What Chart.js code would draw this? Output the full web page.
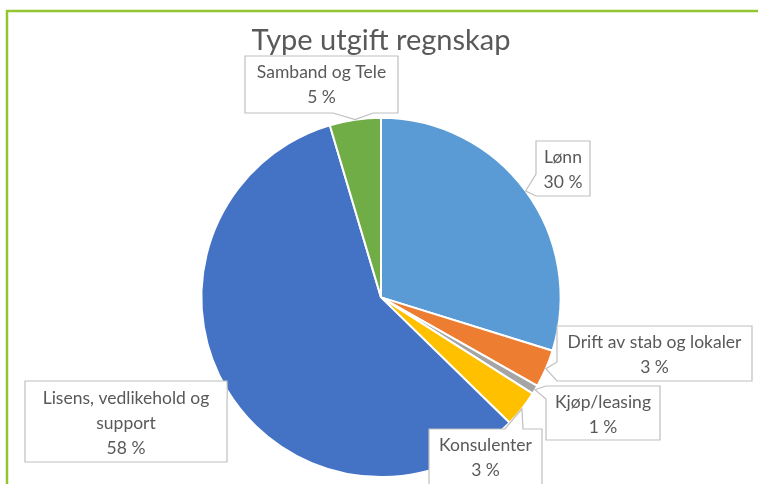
<!DOCTYPE html>
<html>
<head>
<meta charset="utf-8">
<script src="https://cdn.jsdelivr.net/npm/chart.js@4/dist/chart.umd.min.js"></script>
<style>
  html, body { margin: 0; padding: 0; background: #fff; }
  #wrap { width: 758px; height: 484px; }
</style>
</head>
<body>
<div id="wrap"><canvas id="pieChart"></canvas></div>
<script>
const categories = [
  "Lønn",
  "Drift av stab og lokaler",
  "Kjøp/leasing",
  "Konsulenter",
  "Lisens, vedlikehold og support",
  "Samband og Tele"
];
const values = [29.8, 3.4, 0.8, 3.3, 58.1, 4.6];
const sliceColors = ['#5B9BD5', '#ED7D31', '#A5A5A5', '#FFC000', '#4472C4', '#70AD47'];

// callout boxes [x, y, w, h] and where the pointer leaves the box
const calloutBoxes = [
  { rect: [536, 141, 54, 55], edge: 'left', a: 174, b: 196 },
  { rect: [557, 326, 195, 55], edge: 'left', a: 362, b: 381 },
  { rect: [546, 386, 114, 54], edge: 'left', a: 386, b: 399 },
  { rect: [429, 429, 113, 60], edge: 'top', a: 505, b: 523 },
  { rect: [25, 381, 202, 81], edge: 'right', a: 381, b: 404 },
  { rect: [245, 56, 153, 57], edge: 'bottom', a: 333, b: 373 }
];

const labelFont = '17.5px Lato';
const textColor = '#595959';

function wrapText(ctx, text, maxWidth) {
  const words = text.split(' ');
  const lines = [];
  let line = '';
  words.forEach(w => {
    const test = line ? line + ' ' + w : w;
    if (ctx.measureText(test).width > maxWidth && line) {
      lines.push(line);
      line = w;
    } else {
      line = test;
    }
  });
  if (line) lines.push(line);
  return lines;
}

const framePlugin = {
  id: 'frame',
  beforeDraw(chart) {
    const ctx = chart.ctx;
    ctx.save();
    ctx.strokeStyle = '#92C531';
    ctx.lineWidth = 2.5;
    ctx.beginPath();
    ctx.moveTo(7, chart.height);
    ctx.lineTo(7, 11);
    ctx.lineTo(chart.width, 11);
    ctx.stroke();
    ctx.restore();
  }
};

const calloutPlugin = {
  id: 'callouts',
  afterDatasetsDraw(chart) {
    const ctx = chart.ctx;
    const meta = chart.getDatasetMeta(0);
    const total = values.reduce((s, v) => s + v, 0);

    meta.data.forEach((arc, i) => {
      const p = arc.getProps(['x', 'y', 'startAngle', 'endAngle', 'outerRadius'], true);
      const mid = (p.startAngle + p.endAngle) / 2;
      const tip = {
        x: p.x + Math.cos(mid) * p.outerRadius,
        y: p.y + Math.sin(mid) * p.outerRadius
      };
      const c = calloutBoxes[i];
      const [x, y, w, h] = c.rect;
      const r = x + w, btm = y + h;

      ctx.save();
      ctx.beginPath();
      ctx.moveTo(x, y);
      if (c.edge === 'top') {
        ctx.lineTo(c.a, y); ctx.lineTo(tip.x, tip.y); ctx.lineTo(c.b, y);
      }
      ctx.lineTo(r, y);
      if (c.edge === 'right') {
        ctx.lineTo(r, c.a); ctx.lineTo(tip.x, tip.y); ctx.lineTo(r, c.b);
      }
      ctx.lineTo(r, btm);
      if (c.edge === 'bottom') {
        ctx.lineTo(c.b, btm); ctx.lineTo(tip.x, tip.y); ctx.lineTo(c.a, btm);
      }
      ctx.lineTo(x, btm);
      if (c.edge === 'left') {
        ctx.lineTo(x, c.b); ctx.lineTo(tip.x, tip.y); ctx.lineTo(x, c.a);
      }
      ctx.closePath();
      ctx.fillStyle = '#ffffff';
      ctx.fill();
      ctx.strokeStyle = '#BFBFBF';
      ctx.lineWidth = 1.2;
      ctx.stroke();

      ctx.font = labelFont;
      ctx.fillStyle = textColor;
      ctx.textAlign = 'center';
      ctx.textBaseline = 'middle';
      const lines = wrapText(ctx, categories[i], w - 8);
      lines.push(Math.round(values[i] / total * 100) + ' %');
      const lh = 25;
      const cx = x + w / 2;
      const boxH = Math.min(h, 55 + (lines.length - 2) * 26);
      const startY = y + 1.5 + boxH / 2 - (lines.length - 1) * lh / 2;
      lines.forEach((t, k) => ctx.fillText(t, cx, startY + k * lh));
      ctx.restore();
    });
  }
};

const ctx = document.getElementById('pieChart').getContext('2d');
const pieChart = new Chart(ctx, {
  type: 'pie',
  data: {
    labels: categories,
    datasets: [{
      data: values,
      backgroundColor: sliceColors,
      borderColor: '#ffffff',
      borderWidth: 2
    }]
  },
  options: {
    responsive: true,
    maintainAspectRatio: false,
    animation: false,
    layout: { padding: { left: 4, right: 0, top: 0, bottom: 6 } },
    plugins: {
      legend: { display: false },
      tooltip: { enabled: false },
      title: {
        display: true,
        text: 'Type utgift regnskap',
        color: textColor,
        font: { family: 'Lato', size: 29, weight: 'normal' },
        padding: { top: 23, bottom: 59 }
      }
    }
  },
  plugins: [framePlugin, calloutPlugin]
});
</script>
</body>
</html>
